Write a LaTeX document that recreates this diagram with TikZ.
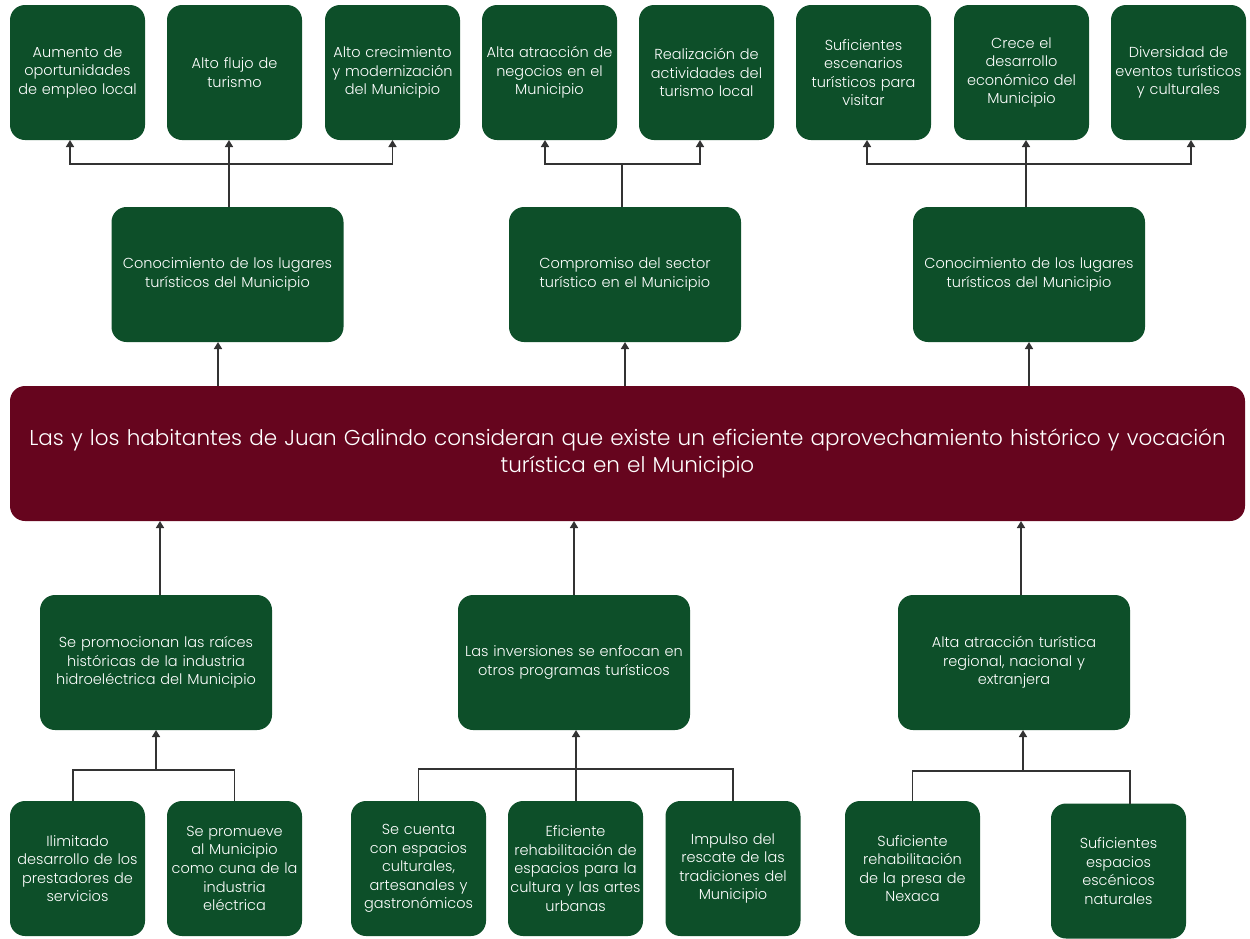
\documentclass[tikz,border=0pt]{standalone}
\usepackage{fontspec}
\setmainfont{Poppins Light}
\usepackage{tikz}
\usetikzlibrary{arrows.meta,positioning,calc}

\definecolor{treegreen}{RGB}{13,79,41}
\definecolor{treemaroon}{RGB}{102,5,30}
\definecolor{linegray}{RGB}{51,51,51}

\begin{document}
\begin{tikzpicture}[
    x=1pt, y=-1pt,
    block/.style={rectangle, fill=treegreen, text=white, align=center, rounded corners=15pt, text width=131pt, minimum height=135pt, inner sep=2pt, outer sep=0pt, font=\fontsize{14.5}{18.6}\selectfont},
    wideblock/.style={block, text width=228pt},
    mainblock/.style={block, fill=treemaroon, text width=1231pt, font=\fontsize{21.5}{27}\selectfont},
    link/.style={draw=linegray, line width=1.6pt},
    line/.style={link, -{Triangle[width=8pt,length=7pt]}}
]
    \useasboundingbox (0,0) rectangle (1250,938);

    % effects
    \node [block] (empleo) at (77.5,72.5) {Aumento de\\oportunidades\\de empleo local};
    \node [block, right=22pt of empleo] (flujo) {Alto flujo de\\turismo};
    \node [block, right=23pt of flujo] (crecim) {Alto crecimiento\\y modernizaci\'on\\del Municipio};
    \node [block, right=22pt of crecim] (negocios) {Alta atracci\'on de\\negocios en el\\Municipio};
    \node [block, right=22pt of negocios] (activ) {Realizaci\'on de\\actividades del\\turismo local};
    \node [block, right=22pt of activ] (escen) {Suficientes\\escenarios\\tur\'isticos para\\visitar};
    \node [block, right=23pt of escen] (desarr) {Crece el\\desarrollo\\econ\'omico del\\Municipio};
    \node [block, right=22pt of desarr] (eventos) {Diversidad de\\eventos tur\'isticos\\y culturales};

    \node [wideblock] (conoc1) at (227.5,274.5) {Conocimiento de los lugares\\tur\'isticos del Municipio};
    \node [wideblock] (compromiso) at (625,274.5) {Compromiso del sector\\tur\'istico en el Municipio};
    \node [wideblock] (conoc2) at (1029,274.5) {Conocimiento de los lugares\\tur\'isticos del Municipio};

    % central problem
    \node [mainblock] (central) at (627.5,453.5) {Las y los habitantes de Juan Galindo consideran que existe un eficiente aprovechamiento hist\'orico y vocaci\'on\\tur\'istica en el Municipio};

    % causes
    \node [wideblock] (raices) at (156,662.5) {Se promocionan las ra\'ices\\hist\'oricas de la industria\\hidroel\'ectrica del Municipio};
    \node [wideblock] (inversion) at (574,662.5) {Las inversiones se enfocan en\\otros programas tur\'isticos};
    \node [wideblock] (atraccion) at (1014,662.5) {Alta atracci\'on tur\'istica\\regional, nacional y\\extranjera};

    \node [block] (prestad) at (77.5,868.5) {Ilimitado\\desarrollo de los\\prestadores de\\servicios};
    \node [block] (cuna) at (234.5,868.5) {Se promueve\\al Municipio\\como cuna de la\\industria\\el\'ectrica};
    \node [block] (espacios) at (418.5,868.5) {Se cuenta\\con espacios\\culturales,\\artesanales y\\gastron\'omicos};
    \node [block] (rehab) at (575.5,868.5) {Eficiente\\rehabilitaci\'on de\\espacios para la\\cultura y las artes\\urbanas};
    \node [block] (rescate) at (733,868.5) {Impulso del\\rescate de las\\tradiciones del\\Municipio};
    \node [block] (presa) at (912.5,868.5) {Suficiente\\rehabilitaci\'on\\de la presa de\\Nexaca};
    \node [block] (escenic) at (1118.5,871) {Suficientes\\espacios\\esc\'enicos\\naturales};

    % junctions
    \coordinate (j1) at (229,164);
    \coordinate (j2) at (622,164);
    \coordinate (j3) at (1026,164);
    \coordinate (j4) at (156,770);
    \coordinate (j5) at (576,769);
    \coordinate (j6) at (1023,771);

    % upper tree
    \draw [link] (conoc1.north -| j1) -- (j1);
    \draw [line] (j1) -| ([xshift=-7.5pt]empleo.south);
    \draw [line] (j1) -- (j1 |- flujo.south);
    \draw [line] (j1) -| (crecim.south);
    \draw [link] (compromiso.north -| j2) -- (j2);
    \draw [line] (j2) -| ([xshift=-4.5pt]negocios.south);
    \draw [line] (j2) -| ([xshift=-6.5pt]activ.south);
    \draw [link] (conoc2.north -| j3) -- (j3);
    \draw [line] (j3) -| ([xshift=3.5pt]escen.south);
    \draw [line] (j3) -- (j3 |- desarr.south);
    \draw [line] (j3) -| ([xshift=12.5pt]eventos.south);

    \draw [line] ([xshift=-9.5pt]conoc1.south |- central.north) -- ([xshift=-9.5pt]conoc1.south);
    \draw [line] (compromiso.south |- central.north) -- (compromiso.south);
    \draw [line] (conoc2.south |- central.north) -- (conoc2.south);

    % lower tree
    \draw [line] ([xshift=4pt]raices.north) -- ([xshift=4pt]raices.north |- central.south);
    \draw [line] (inversion.north) -- (inversion.north |- central.south);
    \draw [line] ([xshift=7pt]atraccion.north) -- ([xshift=7pt]atraccion.north |- central.south);

    \draw [link] ([xshift=-4.5pt]prestad.north) |- (j4) -| (cuna.north);
    \draw [line] (j4) -- (j4 |- raices.south);
    \draw [link] (espacios.north) |- (j5) -| (rescate.north);
    \draw [link] (rehab.north -| j5) -- (j5);
    \draw [line] (j5) -- (j5 |- inversion.south);
    \draw [link] (presa.north) |- (j6) -| ([xshift=11.5pt]escenic.north);
    \draw [line] (j6) -- (j6 |- atraccion.south);
\end{tikzpicture}
\end{document}
